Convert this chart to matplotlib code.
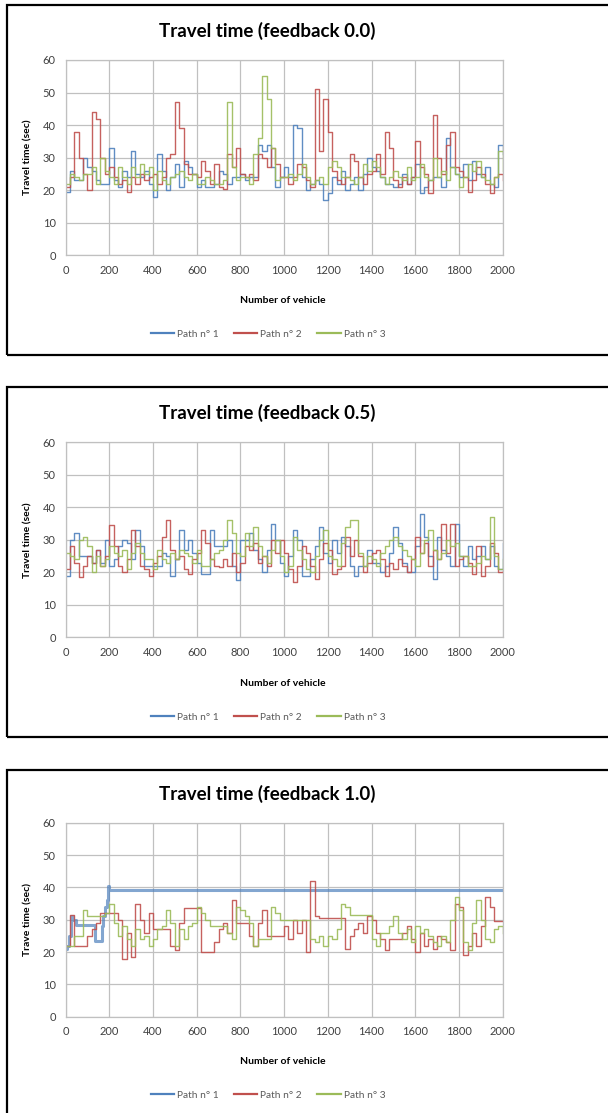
import numpy as np
import matplotlib
matplotlib.use("Agg")
import matplotlib.pyplot as plt
from matplotlib.patches import Rectangle

plt.rcParams['font.family'] = ['Lato', 'DejaVu Sans']

# vehicle index, sampled every 20 vehicles
vehicles = np.arange(0, 2001, 20)

# ---- feedback 0.0 ----
fb00_path1 = [19.5, 26, 23, 23, 30, 27, 26, 23, 22, 22,
              33, 23, 21, 26, 24, 32, 25, 24, 26, 22,
              18, 31, 26, 20, 24, 28, 21, 29, 27, 25,
              21, 23, 21, 21, 22, 26, 25, 22, 24, 24,
              25, 23, 24, 24, 34, 32, 34, 27, 21, 24,
              27, 24, 40, 39, 24, 20, 22, 23, 22, 17,
              19, 24, 22, 26, 20, 22, 24, 20, 25, 30,
              27, 26, 24, 22, 22, 21, 22, 25, 22, 24,
              28, 19, 21, 23, 24, 24, 21, 36, 27, 25,
              24, 28, 23, 29, 25, 24, 27, 22, 21, 34,
              31]
fb00_path2 = [21, 24, 38, 30, 25, 20, 44, 42, 30, 25,
              27, 24, 22, 23, 19.5, 24, 22, 25, 23, 24,
              25, 22, 24, 30, 31, 47, 39, 28, 25, 25,
              24, 29, 26, 22, 28, 21, 20.5, 31, 27, 33,
              25, 24, 25, 23, 31, 30, 27, 33, 28, 24,
              24, 22, 24, 28, 27, 23, 21, 51, 32, 48,
              38, 26, 23, 22, 24, 31, 29, 24, 22, 25,
              26, 31, 25, 38, 33, 23, 21, 24, 22, 24,
              35, 27, 25, 19, 43, 30, 25, 34, 38, 27,
              26, 24, 19.5, 23, 27, 25, 22, 19, 24, 25,
              23]
fb00_path3 = [22, 25, 24, 23, 25, 25, 27, 22, 30, 26,
              24, 22, 27, 24, 22, 27, 24, 28, 25, 27,
              20, 26, 23, 22, 24, 25, 26, 24, 23, 25,
              22, 22, 24, 23, 22, 22, 23, 47, 27, 23,
              24, 24, 22, 31, 36, 55, 48, 33, 23, 24,
              24, 25, 23, 25, 28, 24, 22, 23, 24, 22,
              27, 29, 27, 24, 24, 23, 22, 24, 28, 26,
              29, 27, 24, 22, 24, 26, 24, 23, 27, 23,
              24, 28, 24, 23, 30, 24, 26, 23, 27, 25,
              21, 24, 28, 26, 29, 24, 23, 22, 24, 32,
              26]

# ---- feedback 0.5 ----
fb05_path1 = [19, 30, 32, 25, 25, 25, 23, 27, 23, 30,
              22, 24, 28, 30, 29, 24, 33, 28, 22, 22,
              22, 22, 26, 25, 19, 24, 33, 27, 30, 26,
              23, 19.5, 19.5, 33, 28, 28, 28, 30, 22, 17.5,
              30, 30, 32, 27, 24, 20, 27, 35, 30, 23,
              19, 25, 33, 30, 19, 19, 24, 28, 34, 26,
              23, 30, 26, 31, 28, 22, 19, 22, 22, 27,
              23, 23, 20, 22, 26, 34, 29, 23, 20, 20,
              28, 38, 31, 25, 18, 31, 27, 25, 22, 35,
              25, 22, 28, 24, 25, 28, 24, 28, 22, 21,
              29]
fb05_path2 = [21, 28, 23, 18.5, 22, 25, 23, 27, 22, 25,
              34.5, 28, 22, 20, 24, 33, 28, 22, 21, 19,
              23, 25, 31, 36, 27, 24, 25, 21, 19.5, 24,
              26, 33, 29, 24, 22, 21.5, 24, 22, 26, 20,
              23, 28, 27, 29, 23, 25, 22, 30, 26, 30,
              26, 21, 17, 22, 28, 26, 22, 18, 24, 29,
              27, 19.5, 21, 22, 31, 25, 30, 25, 20, 23,
              26, 27, 24, 19, 23, 21, 24, 22, 20, 24,
              31, 26, 29, 22, 27, 24, 35, 26, 35, 22,
              24, 25, 23, 19.5, 28, 19, 22, 29, 26, 20,
              20.5]
fb05_path3 = [26, 25, 24, 30, 31, 28, 20, 25, 22, 24,
              28, 26, 25, 27, 21, 26, 29, 26, 24, 24,
              21, 27, 24, 23, 26, 24, 27, 26, 25, 23,
              27, 22, 22, 24, 26, 27, 30, 36, 32, 26,
              25, 32, 28, 34, 28, 25, 23, 27, 30, 25,
              20, 22, 31, 27, 24, 21, 20, 25, 30, 33,
              25, 24, 22, 29, 34, 36, 36, 26, 22, 25,
              24, 22, 26, 28, 30, 31, 28, 27, 25, 24,
              22, 26, 30, 33, 27, 24, 26, 30, 28, 29,
              25, 25, 22, 22, 23, 25, 24, 37, 25, 21,
              24]

# ---- feedback 1.0 ----
fb10_path1_x = [0, 8, 15, 25, 35, 50, 135, 165, 172, 180, 188, 195, 200, 2000]
fb10_path1 = [21, 22, 25, 31, 30, 28.5, 23.5, 28, 31, 34, 36, 40.5, 39.3, 39.3]
fb10_path2 = [22, 31.5, 22, 22, 22, 25, 27, 29, 32, 32,
              32, 32, 30, 18, 26, 18.5, 35, 30, 26, 32,
              27, 27, 27, 27, 22, 20.5, 29, 33.5, 33.5, 33.5,
              33.5, 20, 20, 20, 23, 27, 29, 26, 36, 29,
              29, 29, 25, 22, 29, 33, 25, 25, 25, 25,
              28, 24, 30, 26, 30, 20, 42, 31, 30.5, 30.5,
              30.5, 30.5, 30.5, 30.5, 21, 25, 27, 29, 26, 31,
              30, 26, 24, 20.5, 24, 24, 24, 26, 28, 24,
              20, 26, 22, 24, 21, 25, 24, 23, 20.5, 35,
              34, 19, 22, 26, 22, 28, 37, 34, 29.5, 29.5,
              29.5]
fb10_path3 = [22, 22, 25, 25, 33, 31, 31, 31, 31, 32,
              35, 29, 25, 28, 24, 22, 27, 24, 25, 22,
              24, 27, 28, 33, 29, 22, 27, 24, 28, 29,
              34, 32, 30, 28, 28, 28, 28, 26, 24, 34,
              33, 31, 29, 22, 24, 24, 24, 34, 32, 30,
              30, 30, 30, 30, 30, 30, 24, 23, 25, 22,
              25, 24, 27, 35, 34, 31.5, 31.5, 31.5, 31.5, 31.5,
              24, 22, 26, 26, 28, 31, 26, 24, 27, 23,
              28, 26, 27, 25, 23, 22, 25, 23, 30, 37,
              33, 23, 20.5, 29, 36, 30, 24, 23, 27, 28,
              26]

titles = ['Travel time (feedback 0.0)', 'Travel time (feedback 0.5)', 'Travel time (feedback 1.0)']
ylabels = ['Travel time (sec)', 'Travel time (sec)', 'Trave time (sec)']
series_labels = ['Path n° 1', 'Path n° 2', 'Path n° 3']
colors = ['#4F81BD', '#C0504D', '#9BBB59']

W, H = 608, 1113
fig = plt.figure(figsize=(W / 100, H / 100), dpi=100)

def fx(px):
    return px / W

def fy(py):
    return 1 - py / H

panels = [
    # (box top, box bottom, axes top, axes bottom, title y, xlabel y, legend y)
    (5, 355, 60, 255.3, 31, 301, 334),
    (387, 737, 442.3, 637.3, 413, 683, 717),
    (770, 1125, 822.7, 1016.7, 794, 1061, 1095),
]
data = [
    [(vehicles, fb00_path1), (vehicles, fb00_path2), (vehicles, fb00_path3)],
    [(vehicles, fb05_path1), (vehicles, fb05_path2), (vehicles, fb05_path3)],
    [(fb10_path1_x, fb10_path1), (vehicles, fb10_path2), (vehicles, fb10_path3)],
]

ax_l, ax_r = 65.5, 502.7
for i, (bt, bb, at, ab, ty, xly, ly) in enumerate(panels):
    fig.add_artist(Rectangle((fx(7), fy(bb)), fx(620 - 7), (bb - bt) / H,
                             transform=fig.transFigure, fill=False, ec='black', lw=1.6))
    ax = fig.add_axes([fx(ax_l), fy(ab), fx(ax_r - ax_l), (ab - at) / H])
    lines = []
    for j, (xs, ys) in enumerate(data[i]):
        thick = (i == 2 and j == 0)
        ln, = ax.plot(xs, ys, drawstyle='steps-post', color=colors[j],
                      lw=2.2 if thick else 1.0, alpha=0.7 if thick else 0.9,
                      label=series_labels[j])
        lines.append(ln)
    ax.set_xlim(0, 2000)
    ax.set_ylim(0, 60)
    ax.set_xticks(range(0, 2001, 200))
    ax.set_yticks(range(0, 61, 10))
    ax.grid(True, color='#C0C0C0', lw=0.9)
    ax.set_axisbelow(True)
    for s in ax.spines.values():
        s.set_color('#C0C0C0')
        s.set_linewidth(0.9)
    ax.tick_params(length=0, labelsize=8, colors='#404040', pad=7)
    fig.text(fx(267), fy(ty), titles[i], ha='center', va='center',
             fontsize=13.5, fontweight='bold')
    fig.text(fx(283), fy(xly), 'Number of vehicle', ha='center', va='center',
             fontsize=7.5, fontweight='bold')
    fig.text(fx(28), fy((at + ab) / 2), ylabels[i], ha='center', va='center',
             rotation=90, fontsize=7.5, fontweight='bold')
    leg = fig.legend(handles=lines, loc='center', bbox_to_anchor=(fx(268), fy(ly)),
                     ncol=3, frameon=False, fontsize=7.3, handlelength=2.3,
                     handletextpad=0.3, columnspacing=1.5, labelcolor='#595959')
    for h in leg.legend_handles:
        h.set_linewidth(1.6)
        h.set_alpha(1)

fig.savefig('out.png', dpi=100)
